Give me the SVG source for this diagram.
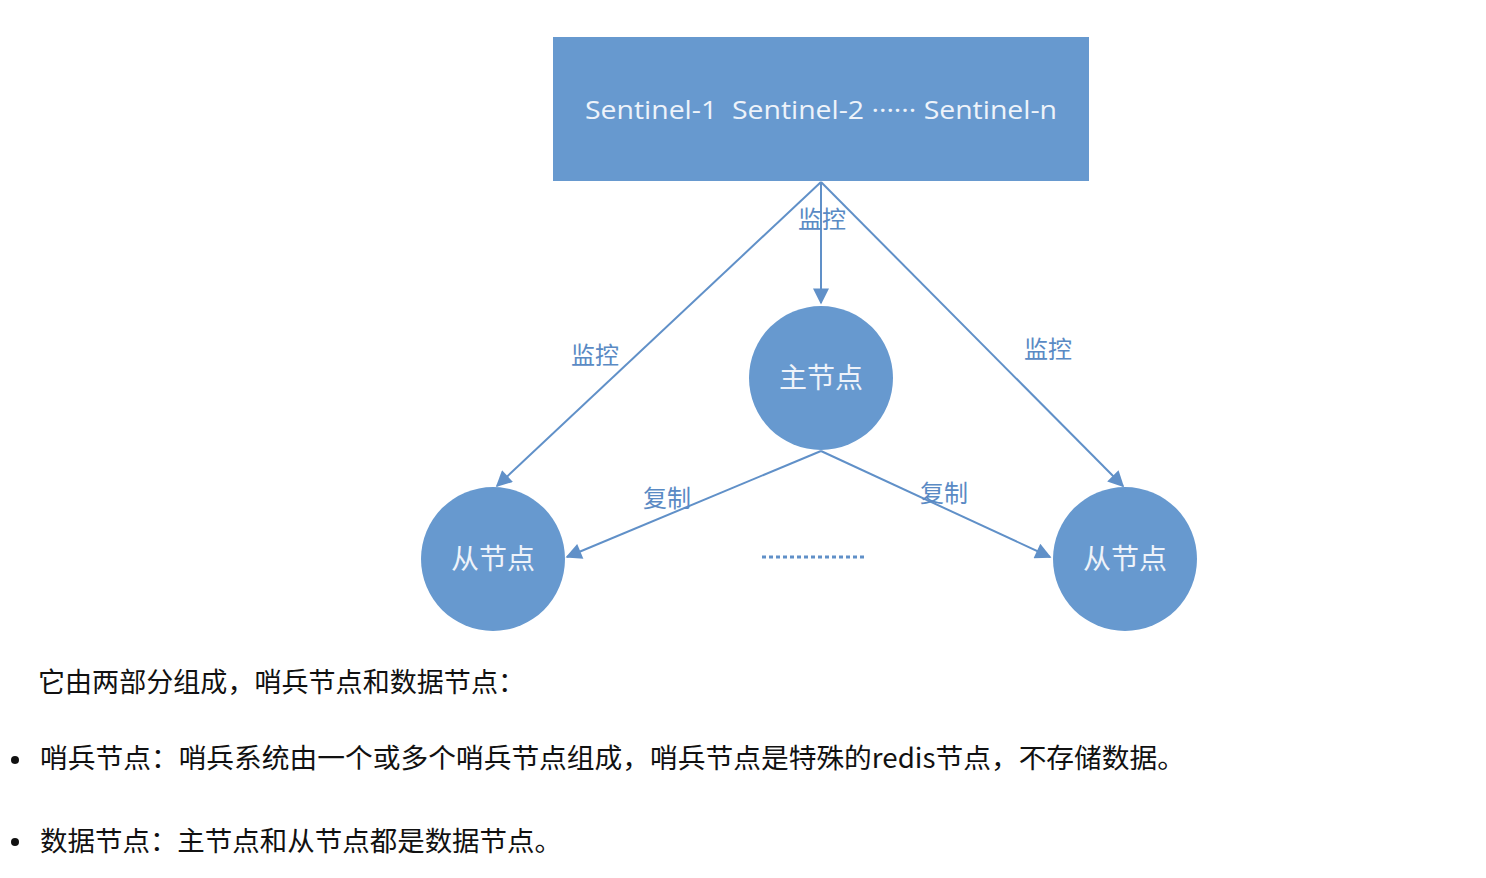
<svg xmlns="http://www.w3.org/2000/svg" width="1486" height="878" viewBox="0 0 1486 878">
<style>
.node{fill:#6799cf}
.nt{font-family:"Noto Sans CJK SC","Liberation Sans",sans-serif;fill:#eef3fa;text-anchor:middle}
.st{font-family:"Open Sans","Liberation Sans",sans-serif;fill:#eef3fa;text-anchor:middle}
.lbl{font-family:"Noto Sans CJK SC",sans-serif;fill:#5a8ac4;font-size:24px;text-anchor:middle}
.edge{stroke:#6090c8;stroke-width:2;fill:none}
.body{font-family:"Noto Sans CJK SC","Liberation Sans",sans-serif;fill:#111;font-size:27px}
</style>
<defs>
<marker id="ahb" viewBox="0 0 10 10" refX="9" refY="5" markerWidth="18" markerHeight="16" markerUnits="userSpaceOnUse" orient="auto">
<path d="M0,0 L10,5 L0,10 z" fill="#6090c8"/>
</marker>
</defs>
<rect width="1486" height="878" fill="#fff"/>
<g id="connectors">
<line class="edge" x1="821" y1="182" x2="821" y2="303" marker-end="url(#ahb)"/>
<line class="edge" x1="821" y1="182" x2="497" y2="486" marker-end="url(#ahb)"/>
<line class="edge" x1="821" y1="182" x2="1123" y2="486" marker-end="url(#ahb)"/>
<line class="edge" x1="821" y1="451" x2="567" y2="557" marker-end="url(#ahb)" stroke-width="2.5"/>
<line class="edge" x1="821" y1="451" x2="1050" y2="557" marker-end="url(#ahb)" stroke-width="2.5"/>
<line x1="762" y1="557" x2="867" y2="557" stroke="#6090c8" stroke-width="3" stroke-dasharray="4,3"/>
<text class="lbl" x="822" y="228">监控</text>
<text class="lbl" x="595" y="364">监控</text>
<text class="lbl" x="1048" y="358">监控</text>
<text class="lbl" x="667" y="507">复制</text>
<text class="lbl" x="944" y="502">复制</text>
</g>
<g id="sentinels">
<rect class="node" x="553" y="37" width="536" height="144"/>
<text class="st" x="821" y="119" font-size="25" textLength="472" lengthAdjust="spacingAndGlyphs" xml:space="preserve">Sentinel-1  Sentinel-2 ······ Sentinel-n</text>
</g>
<g id="master">
<circle class="node" cx="821" cy="378" r="72"/>
<text class="nt" x="821" y="388" font-size="28">主节点</text>
</g>
<g id="slave-left">
<circle class="node" cx="493" cy="559" r="72"/>
<text class="nt" x="493" y="569" font-size="28">从节点</text>
</g>
<g id="slave-right">
<circle class="node" cx="1125" cy="559" r="72"/>
<text class="nt" x="1125" y="569" font-size="28">从节点</text>
</g>
<g id="description">
<text class="body" x="38" y="692" textLength="487" lengthAdjust="spacingAndGlyphs">它由两部分组成，哨兵节点和数据节点：</text>
<circle cx="15" cy="760" r="4" fill="#111"/>
<text class="body" x="40" y="768" textLength="1145" lengthAdjust="spacingAndGlyphs">哨兵节点：哨兵系统由一个或多个哨兵节点组成，哨兵节点是特殊的redis节点，不存储数据。</text>
<circle cx="15" cy="842" r="4" fill="#111"/>
<text class="body" x="40" y="851" textLength="522" lengthAdjust="spacingAndGlyphs">数据节点：主节点和从节点都是数据节点。</text>
</g>
</svg>
